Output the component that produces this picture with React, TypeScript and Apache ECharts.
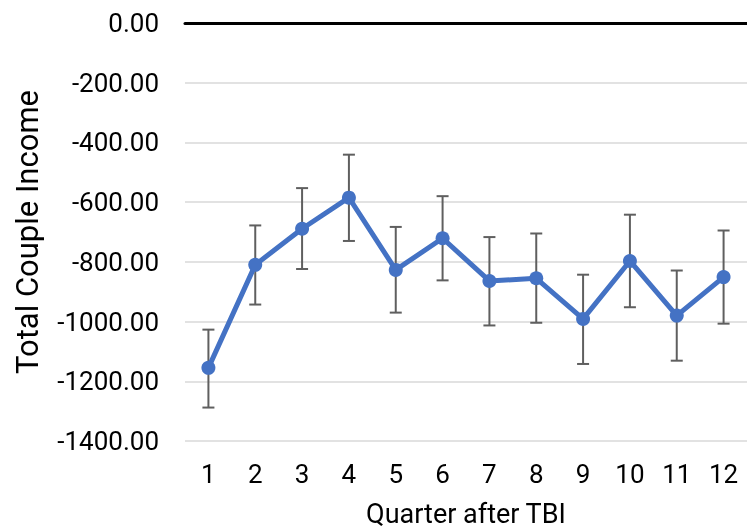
import React, { useEffect, useRef } from "react";
import * as echarts from "echarts";

const quarters = ["1", "2", "3", "4", "5", "6", "7", "8", "9", "10", "11", "12"];
const meanIncome = [-1155, -810, -689, -585, -827, -721, -864, -855, -991, -797, -980, -851];
const upperBound = [-1027, -678, -553, -441, -683, -580, -717, -705, -843, -642, -829, -695];
const lowerBound = [-1288, -943, -824, -730, -970, -862, -1013, -1004, -1142, -952, -1131, -1007];

export default function App() {
  const ref = useRef<HTMLDivElement>(null);
  useEffect(() => {
    if (!ref.current) return;
    const chart = echarts.init(ref.current, undefined, { renderer: "svg" });
    const errData = quarters.map((_, i) => [i, lowerBound[i], upperBound[i]]);
    chart.setOption({
      animation: false,
      textStyle: { fontFamily: "Roboto" },
      grid: { left: 185, top: 23, width: 564, height: 420, containLabel: false },
      xAxis: [
        {
          type: "category",
          data: quarters,
          position: "bottom",
          boundaryGap: true,
          axisLine: { show: false },
          axisTick: { show: false },
          axisLabel: { color: "#000", fontSize: 26, margin: 20, fontFamily: "Roboto" },
          name: "Quarter after TBI",
          nameLocation: "middle",
          nameGap: 59,
          nameTextStyle: { color: "#000", fontSize: 27, fontFamily: "Roboto" },
        },
        {
          type: "category",
          data: quarters,
          position: "top",
          axisLine: { show: true, lineStyle: { color: "#000", width: 3 } },
          axisTick: { show: false },
          axisLabel: { show: false },
        },
      ],
      yAxis: {
        type: "value",
        min: -1400,
        max: 0,
        interval: 200,
        axisLine: { show: false },
        axisTick: { show: false },
        splitLine: { lineStyle: { color: "#d9d9d9", width: 1.5 } },
        axisLabel: {
          color: "#000",
          fontSize: 26,
          margin: 26,
          fontFamily: "Roboto",
          formatter: (v: number) => v.toFixed(2),
        },
        name: "Total Couple Income",
        nameLocation: "middle",
        nameGap: 142,
        nameTextStyle: { color: "#000", fontSize: 31, fontFamily: "Roboto" },
      },
      series: [
        {
          type: "custom",
          z: 1,
          data: errData,
          renderItem: (params: any, api: any) => {
            const x = api.value(0);
            const lo = api.coord([x, api.value(1)]);
            const hi = api.coord([x, api.value(2)]);
            const hw = 6;
            const style = { stroke: "#5f5f5f", lineWidth: 2 };
            return {
              type: "group",
              children: [
                { type: "line", shape: { x1: hi[0], y1: hi[1], x2: lo[0], y2: lo[1] }, style },
                { type: "line", shape: { x1: hi[0] - hw, y1: hi[1], x2: hi[0] + hw, y2: hi[1] }, style },
                { type: "line", shape: { x1: lo[0] - hw, y1: lo[1], x2: lo[0] + hw, y2: lo[1] }, style },
              ],
            };
          },
        },
        {
          type: "line",
          z: 2,
          data: meanIncome,
          symbol: "circle",
          symbolSize: 14,
          lineStyle: { color: "#4472C4", width: 5 },
          itemStyle: { color: "#4472C4" },
        },
      ],
    });
    return () => chart.dispose();
  }, []);
  return <div ref={ref} style={{ position: "fixed", left: 0, top: 0, width: 747, height: 532 }} />;
}
